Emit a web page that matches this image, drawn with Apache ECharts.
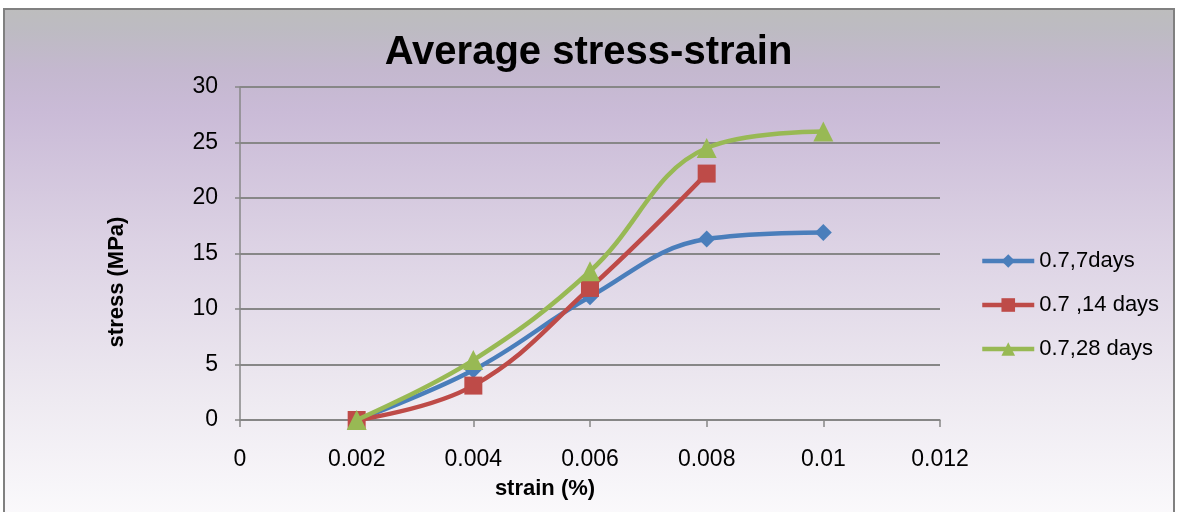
<!DOCTYPE html>
<html>
<head>
<meta charset="utf-8">
<title>Average stress-strain</title>
<script src="https://cdn.jsdelivr.net/npm/echarts@6/dist/echarts.min.js"></script>
<style>
  html, body { margin: 0; padding: 0; background: #ffffff; }
  #chart { width: 1177px; height: 512px; }
</style>
</head>
<body>
<div id="chart"></div>
<script>
// Strain values (x) and average stress (MPa) for each curing age
const strain = [0.002, 0.004, 0.006, 0.008, 0.01];
const stress7 = [0, 4.5, 11.1, 16.3, 16.9];
const stress14 = [0, 3.1, 11.9, 22.2];
const stress28 = [0, 5.4, 13.4, 24.5, 26.0];
const seriesNames = ['0.7,7days', '0.7 ,14 days', '0.7,28 days'];
const titleText = 'Average stress-strain';
const xTitle = 'strain (%)';
const yTitle = 'stress (MPa)';

const FONT = 'Liberation Sans, Arial, sans-serif';
const GRID_COLOR = '#878787';

function pairs(ys) {
  return ys.map((v, i) => [strain[i], v]);
}

const chart = echarts.init(document.getElementById('chart'), null, { renderer: 'canvas' });

chart.setOption({
  animation: false,
  backgroundColor: '#ffffff',
  title: {
    text: titleText,
    left: 'center',
    top: 28,
    textStyle: { fontFamily: FONT, fontWeight: 'bold', fontSize: 40, color: '#000000' }
  },
  graphic: {
    elements: [
      {
        type: 'rect',
        z: -100,
        silent: true,
        shape: { x: 4, y: 9, width: 1170, height: 520 },
        style: {
          fill: new echarts.graphic.LinearGradient(0, 0, 0, 1, [
            { offset: 0.0, color: '#bdbdbd' },
            { offset: 0.04, color: '#bdbbc2' },
            { offset: 0.12, color: '#c4b8cf' },
            { offset: 0.2, color: '#cabbd7' },
            { offset: 0.45, color: '#dcd2e4' },
            { offset: 0.75, color: '#eeeaf1' },
            { offset: 1.0, color: '#fcfbfd' }
          ]),
          stroke: '#808080',
          lineWidth: 2
        }
      },
      {
        type: 'text',
        x: 117,
        y: 282,
        rotation: Math.PI / 2,
        silent: true,
        style: {
          text: yTitle,
          align: 'center',
          verticalAlign: 'middle',
          fontFamily: FONT,
          fontWeight: 'bold',
          fontSize: 22,
          fill: '#000000'
        }
      },
      {
        type: 'text',
        x: 545,
        y: 489,
        silent: true,
        style: {
          text: xTitle,
          align: 'center',
          verticalAlign: 'middle',
          fontFamily: FONT,
          fontWeight: 'bold',
          fontSize: 22,
          fill: '#000000'
        }
      }
    ]
  },
  legend: {
    orient: 'vertical',
    left: 980,
    top: 250,
    padding: 0,
    itemWidth: 52,
    itemHeight: 17,
    itemGap: 22,
    lineStyle: { width: 4.5 },
    textStyle: { fontFamily: FONT, fontSize: 22, color: '#000000', lineHeight: 22 },
    data: seriesNames
  },
  grid: { left: 240, right: 237, top: 87, bottom: 92, containLabel: false },
  xAxis: {
    type: 'value',
    min: 0,
    max: 0.012,
    interval: 0.002,
    axisLine: { show: true, onZero: false, lineStyle: { color: GRID_COLOR, width: 1.5 } },
    axisTick: { show: true, inside: false, length: 7, lineStyle: { color: GRID_COLOR, width: 1.5 } },
    axisLabel: {
      margin: 28,
      fontFamily: FONT,
      fontSize: 23,
      color: '#000000',
      formatter: v => String(+v.toFixed(3))
    },
    splitLine: { show: false }
  },
  yAxis: {
    type: 'value',
    min: 0,
    max: 30,
    interval: 5,
    axisLine: { show: true, lineStyle: { color: GRID_COLOR, width: 1.5 } },
    axisTick: { show: true, inside: false, length: 5, lineStyle: { color: GRID_COLOR, width: 1.5 } },
    axisLabel: { margin: 22, fontFamily: FONT, fontSize: 23, color: '#000000' },
    splitLine: { show: true, lineStyle: { color: GRID_COLOR, width: 2 } }
  },
  series: [
    {
      name: seriesNames[0],
      type: 'line',
      data: pairs(stress7),
      smooth: 0.4,
      symbol: 'diamond',
      symbolSize: 17,
      lineStyle: { color: '#4a7ebb', width: 4.5 },
      itemStyle: { color: '#4a7ebb' },
      z: 3
    },
    {
      name: seriesNames[1],
      type: 'line',
      data: pairs(stress14),
      smooth: 0.4,
      symbol: 'rect',
      symbolSize: 18,
      lineStyle: { color: '#be4b48', width: 4.5 },
      itemStyle: { color: '#be4b48' },
      z: 4
    },
    {
      name: seriesNames[2],
      type: 'line',
      data: pairs(stress28),
      smooth: 0.4,
      symbol: 'triangle',
      symbolSize: 20,
      lineStyle: { color: '#98b954', width: 4.5 },
      itemStyle: { color: '#98b954' },
      z: 5
    }
  ]
});
</script>
</body>
</html>
